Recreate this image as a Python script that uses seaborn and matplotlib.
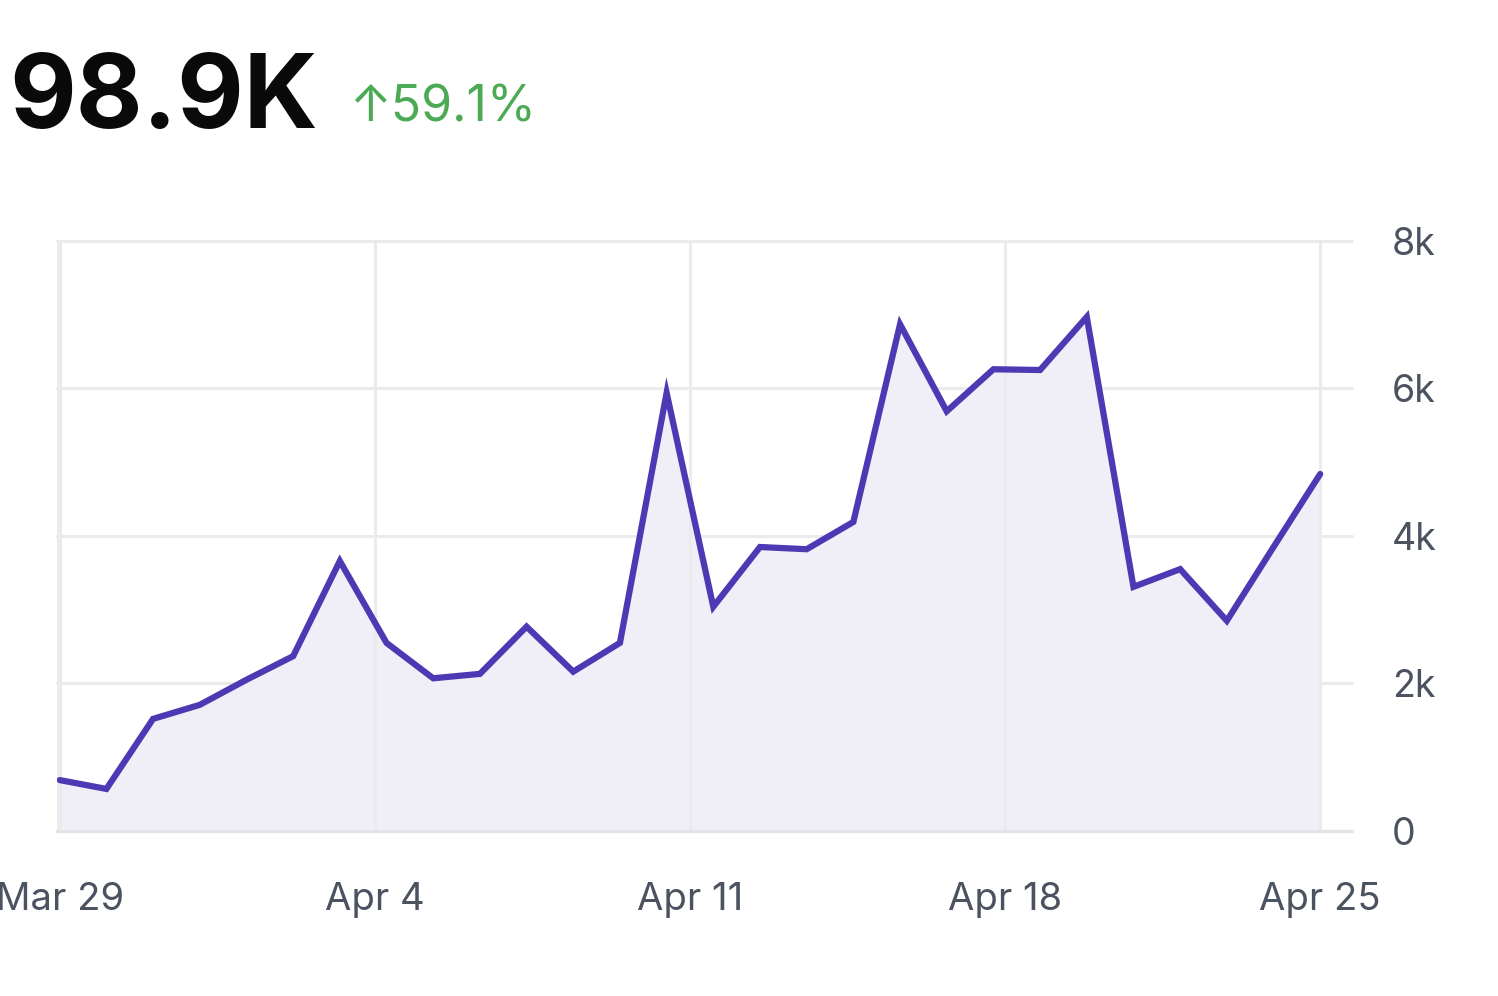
import numpy as np
import pandas as pd
import matplotlib
matplotlib.use('Agg')
import matplotlib.pyplot as plt
import seaborn as sns

# daily values, Mar 29 .. Apr 25
days = list(range(28))
visits = [690, 570, 1520, 1710, 2050, 2370, 3660, 2550, 2070, 2130,
          2770, 2160, 2550, 5940, 3040, 3850, 3820, 4190, 6870, 5690,
          6260, 6250, 6970, 3310, 3550, 2850, 3850, 4840]
tick_labels = ['Mar 29', 'Apr 4', 'Apr 11', 'Apr 18', 'Apr 25']
y_ticks = [0, 2000, 4000, 6000, 8000]
y_labels = ['0', '2k', '4k', '6k', '8k']
total_label = '98.9K'
change_label = '\u219159.1%'

sns.set_theme(style='white')
plt.rcParams['font.family'] = ['Inter', 'DejaVu Sans']

df = pd.DataFrame({'day': days, 'visits': visits})

fig = plt.figure(figsize=(14.98, 9.96), dpi=100)
ax = fig.add_axes([0.038, 0.1657, 0.8645, 0.5924])

grid_col = '#ebebee'
ax.fill_between(df['day'], df['visits'], 0, color='#f0eff8', zorder=1)
sns.lineplot(data=df, x='day', y='visits', ax=ax, color='#4f38b3',
             linewidth=4.5, zorder=3, solid_joinstyle='miter')

ax.set_xlim(-0.06, 27.68)
ax.set_ylim(0, 8000)

xt = np.linspace(0, 27, 5)
for x in xt:
    ax.axvline(x, color=grid_col, lw=2.2, zorder=2)
ax.axvline(-0.06, color=grid_col, lw=2.4, zorder=2)
for y in y_ticks[1:]:
    ax.axhline(y, color=grid_col, lw=2.2, zorder=0, clip_on=False)

for s in ['top', 'right', 'left']:
    ax.spines[s].set_visible(False)
ax.spines['bottom'].set_color('#e4e4e8')
ax.spines['bottom'].set_linewidth(2.4)

ax.set_xticks(xt)
ax.set_xticklabels(tick_labels)
ax.yaxis.tick_right()
ax.set_yticks(y_ticks)
ax.set_yticklabels(y_labels, ha='left')
ax.tick_params(axis='x', length=0, pad=37, labelsize=27.5, labelcolor='#4b5260')
ax.tick_params(axis='y', length=0, pad=29, labelsize=27, labelcolor='#4b5260')
ax.set_xlabel('')
ax.set_ylabel('')

fig.text(0.006, 0.871, total_label, fontsize=74, fontweight='bold', color='#0a0a0a', va='baseline')
fig.text(0.233, 0.878, change_label, fontsize=36, color='#4caa55', va='baseline')

fig.savefig('out.png', dpi=100)
